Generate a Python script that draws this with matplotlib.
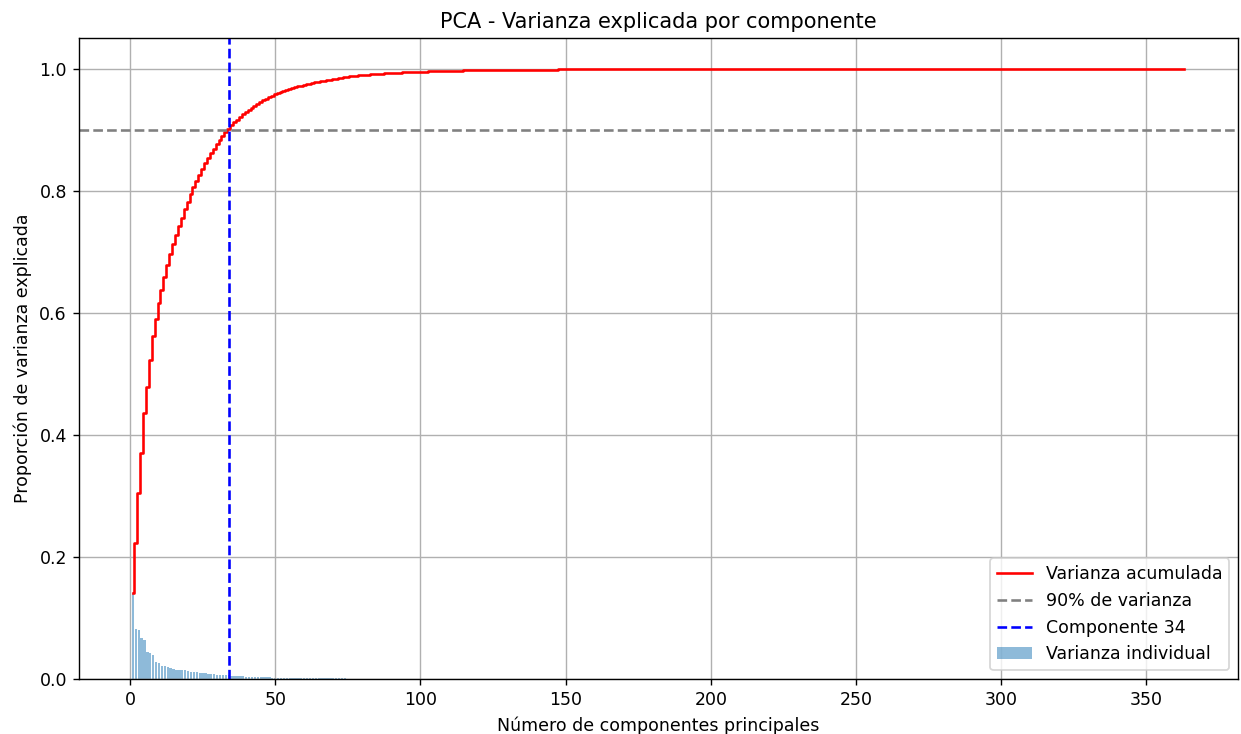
import matplotlib
matplotlib.use("Agg")
import matplotlib.pyplot as plt
import numpy as np

# varianza explicada por componente, en porcentaje
var_pct_head = [
    14.1, 8.2, 8.1, 6.7, 6.4, 4.4, 4.3, 4.0, 2.8, 2.6,
    2.2, 2.1, 1.9, 1.8, 1.6, 1.5, 1.45, 1.4, 1.4, 1.25,
    1.2, 1.15, 1.1, 1.0, 0.95, 0.9, 0.85, 0.8, 0.75, 0.72,
    0.68, 0.65, 0.62, 0.58, 0.54, 0.5, 0.47, 0.44, 0.41, 0.39,
    0.37, 0.35, 0.33, 0.31, 0.29, 0.27, 0.26, 0.25, 0.23, 0.22,
    0.21, 0.19, 0.18, 0.17, 0.155, 0.145, 0.135, 0.125, 0.12, 0.115,
    0.11, 0.105, 0.1, 0.1, 0.095, 0.095, 0.09, 0.09, 0.085, 0.085,
    0.08, 0.08, 0.075, 0.075, 0.07, 0.065, 0.06, 0.055, 0.05, 0.048,
    0.045, 0.042, 0.04, 0.038, 0.035, 0.033, 0.03, 0.029, 0.028, 0.027,
    0.026, 0.025, 0.024, 0.023, 0.022, 0.021, 0.02, 0.019, 0.018, 0.017,
]
var_pct_mid = [
    0.017, 0.017, 0.016, 0.016, 0.016, 0.016, 0.016, 0.015, 0.015, 0.015,
    0.0095, 0.0092, 0.009, 0.0087, 0.0085, 0.0082, 0.008, 0.0077, 0.0075, 0.0072,
    0.007, 0.0067, 0.0065, 0.0062, 0.006, 0.0057, 0.0055, 0.0052, 0.005, 0.0047,
    0.0045, 0.0044, 0.0043, 0.0042, 0.0041, 0.0040, 0.0039, 0.0038, 0.0037, 0.0036,
    0.0035, 0.0034, 0.0033, 0.0032, 0.0031, 0.0030, 0.0029, 0.0028, 0.0027, 0.0026,
    0.0025, 0.0025, 0.0024, 0.0024, 0.0023, 0.0023, 0.0022, 0.0022, 0.0021, 0.0021,
    0.0020, 0.0020, 0.0019, 0.0019, 0.0018, 0.0018, 0.0017, 0.0017, 0.0016, 0.0016,
    0.0015, 0.0015, 0.0014, 0.0014, 0.0013, 0.0013, 0.0012, 0.0012, 0.0011, 0.0011,
    0.0010, 0.0010, 0.0010, 0.0009, 0.0009, 0.0009, 0.0008, 0.0008, 0.0008, 0.0007,
    0.0007, 0.0007, 0.0006,
]
var_pct_tail = [
    0.0006, 0.0006, 0.0006, 0.0006, 0.0006, 0.0006, 0.0006, 0.0006, 0.0006, 0.0006,
    0.0006, 0.0006, 0.0006, 0.0006, 0.0006, 0.0006, 0.0006, 0.0006, 0.0006, 0.0006,
    0.0005, 0.0005, 0.0005, 0.0005, 0.0005, 0.0005, 0.0005, 0.0005, 0.0005, 0.0005,
    0.0005, 0.0005, 0.0005, 0.0005, 0.0005, 0.0005, 0.0005, 0.0005, 0.0005, 0.0005,
    0.0005, 0.0005, 0.0005, 0.0005, 0.0005, 0.0005, 0.0005, 0.0005, 0.0005, 0.0005,
    0.0004, 0.0004, 0.0004, 0.0004, 0.0004, 0.0004, 0.0004, 0.0004, 0.0004, 0.0004,
    0.0004, 0.0004, 0.0004, 0.0004, 0.0004, 0.0004, 0.0004, 0.0004, 0.0004, 0.0004,
    0.0004, 0.0004, 0.0004, 0.0004, 0.0004, 0.0004, 0.0004, 0.0004, 0.0004, 0.0004,
    0.0004, 0.0004, 0.0004, 0.0004, 0.0004, 0.0004, 0.0004, 0.0004, 0.0004, 0.0004,
    0.0003, 0.0003, 0.0003, 0.0003, 0.0003, 0.0003, 0.0003, 0.0003, 0.0003, 0.0003,
    0.0003, 0.0003, 0.0003, 0.0003, 0.0003, 0.0003, 0.0003, 0.0003, 0.0003, 0.0003,
    0.0003, 0.0003, 0.0003, 0.0003, 0.0003, 0.0003, 0.0003, 0.0003, 0.0003, 0.0003,
    0.0003, 0.0003, 0.0003, 0.0003, 0.0003, 0.0003, 0.0003, 0.0003, 0.0003, 0.0003,
    0.0002, 0.0002, 0.0002, 0.0002, 0.0002, 0.0002, 0.0002, 0.0002, 0.0002, 0.0002,
    0.0002, 0.0002, 0.0002, 0.0002, 0.0002, 0.0002, 0.0002, 0.0002, 0.0002, 0.0002,
    0.0002, 0.0002, 0.0002, 0.0002, 0.0002, 0.0002, 0.0002, 0.0002, 0.0002, 0.0002,
    0.0001, 0.0001, 0.0001, 0.0001, 0.0001, 0.0001, 0.0001, 0.0001, 0.0001, 0.0001,
]
umbral = 0.90
n_componentes_90 = 34

var_ratio = np.array(var_pct_head + var_pct_mid + var_pct_tail) / 100.0
var_acum = np.cumsum(var_ratio)
componentes = np.arange(1, len(var_ratio) + 1)

fig, ax = plt.subplots(figsize=(1241 / 125, 734 / 125), dpi=125)
ax.bar(componentes, var_ratio, alpha=0.5, align="center", label="Varianza individual")
ax.step(componentes, var_acum, where="mid", color="red", label="Varianza acumulada")
ax.axhline(y=umbral, color="gray", linestyle="--", label="90% de varianza")
ax.axvline(x=n_componentes_90, color="blue", linestyle="--", label=f"Componente {n_componentes_90}")
ax.set_xlabel("Número de componentes principales")
ax.set_ylabel("Proporción de varianza explicada")
ax.set_title("PCA - Varianza explicada por componente")
ax.legend(loc="lower right")
ax.grid(True)
fig.subplots_adjust(left=0.0637, right=0.9976, top=0.948, bottom=0.075)
fig.savefig("out.png", dpi=125)
